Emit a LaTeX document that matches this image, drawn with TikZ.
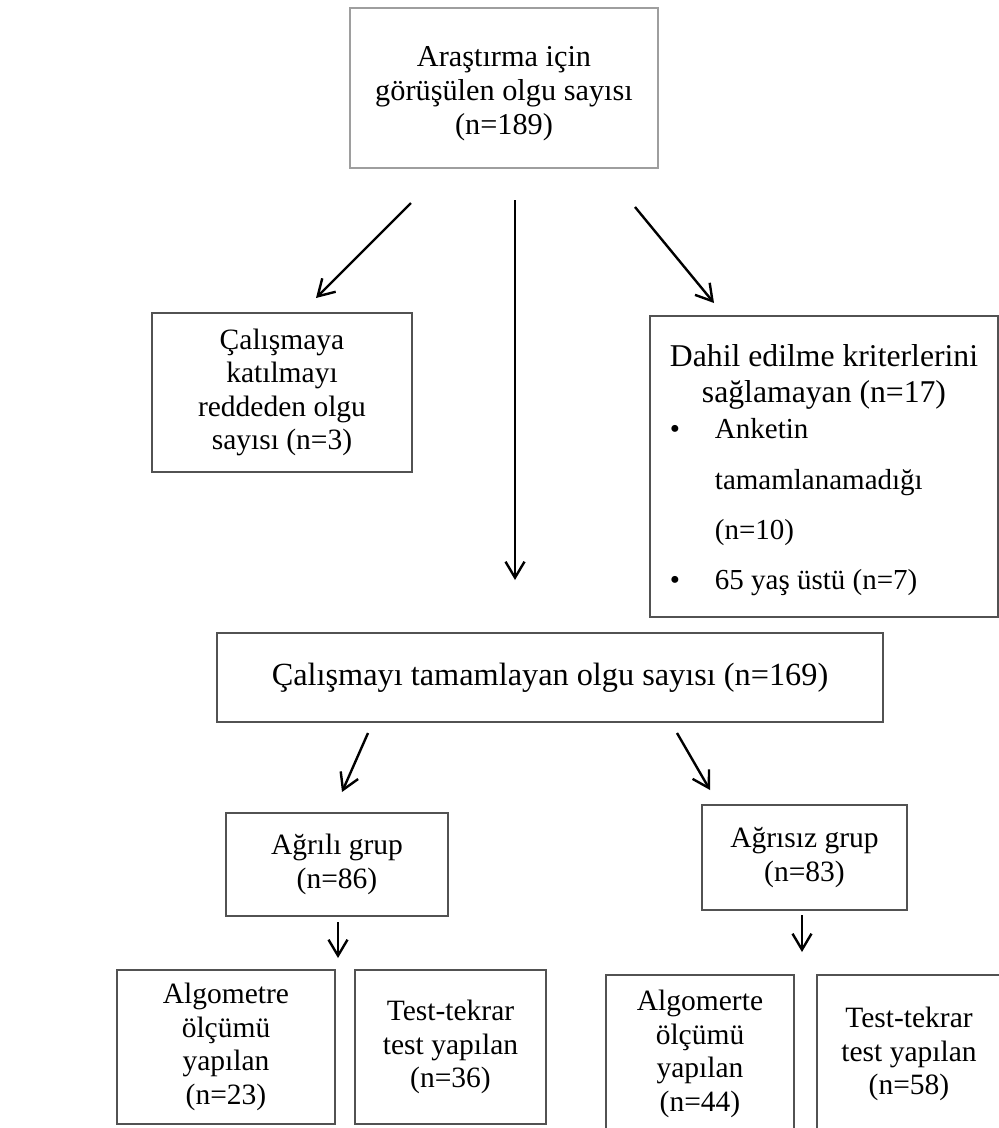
\documentclass[tikz,border=0pt]{standalone}
\usepackage{fontspec}
\setmainfont{Liberation Serif}
\usetikzlibrary{arrows.meta}

\newcommand{\baslik}{\fontsize{31.7}{36}\selectfont}
\newcommand{\liste}{\fontsize{29}{36}\selectfont}

\tikzset{
  kutu/.style={draw=black!68, line width=2.6pt, inner sep=0pt, align=center, fill=white,
    font=\fontsize{29.5}{33.5}\selectfont},
  ok/.style={-{Straight Barb[length=16pt,width=19pt,line width=2.4pt]}, line width=2.4pt},
}

\begin{document}
\begin{tikzpicture}[x=1pt,y=-1pt]
    \useasboundingbox (0,0) rectangle (999,1128);
    % boxes
    \node[kutu, draw=black!38, minimum width=308pt, minimum height=160pt,
          font=\fontsize{30.3}{34}\selectfont] (gorusulen) at (504,88)
        {\raisebox{-6pt}[\height][\depth]{\begin{tabular}{@{}c@{}}Araştırma için\\ görüşülen olgu sayısı\\ (n=189)\end{tabular}}};
    \node[kutu, minimum width=260pt, minimum height=159pt] (reddeden) at (282,392.5)
        {Çalışmaya\\ katılmayı\\ reddeden olgu\\ sayısı (n=3)};
    \node[kutu, minimum width=348pt, minimum height=301pt, font=\baslik] (dahil) at (824,466.5)
        {\raisebox{-4pt}[\height][\depth]{\begin{tabular}{@{}p{45pt}@{}l@{}}
            \multicolumn{2}{@{}c@{}}{Dahil edilme kriterlerini}\\
            \multicolumn{2}{@{}c@{}}{sağlamayan (n=17)}\\
            \liste\textbullet & \liste Anketin\\[15pt]
            & \liste tamamlanamadığı\\[14pt]
            & \liste (n=10)\\[14pt]
            \liste\textbullet & \liste 65 yaş üstü (n=7)
        \end{tabular}}};
    \node[kutu, minimum width=666pt, minimum height=89pt,
          font=\fontsize{32.3}{36}\selectfont] (tamamlayan) at (550,677.5)
        {Çalışmayı tamamlayan olgu sayısı (n=169)};
    \node[kutu, minimum width=222pt, minimum height=103pt] (agrili) at (337,864.5)
        {Ağrılı grup\\ (n=86)};
    \node[kutu, minimum width=205pt, minimum height=105pt] (agrisiz) at (804.5,857.5)
        {Ağrısız grup\\ (n=83)};
    \node[kutu, minimum width=218pt, minimum height=154pt] (algo1) at (226,1047)
        {Algometre\\ ölçümü\\ yapılan\\ (n=23)};
    \node[kutu, minimum width=191pt, minimum height=154pt] (test1) at (450.5,1047)
        {Test-tekrar\\ test yapılan\\ (n=36)};
    \node[kutu, minimum width=188pt, minimum height=158pt] (algo2) at (700,1054)
        {Algomerte\\ ölçümü\\ yapılan\\ (n=44)};
    \node[kutu, minimum width=184pt, minimum height=158pt] (test2) at (909,1054)
        {Test-tekrar\\ test yapılan\\ (n=58)};
    % arrow ends
    \coordinate (s1) at (411,203);  \coordinate (e1) at (316,298);
    \coordinate (s2) at (515,200);  \coordinate (e2) at (515,580);
    \coordinate (s3) at (635,207);  \coordinate (e3) at (714,303);
    \coordinate (s4) at (368,733);  \coordinate (e4) at (342,792);
    \coordinate (s5) at (677,733);  \coordinate (e5) at (710,790);
    \coordinate (s6) at (338,922);  \coordinate (e6) at (338,958);
    \coordinate (s7) at (802,915);  \coordinate (e7) at (802,952);
    \foreach \i in {1,...,7}
        \draw[ok] (s\i) -- (e\i);
\end{tikzpicture}
\end{document}
